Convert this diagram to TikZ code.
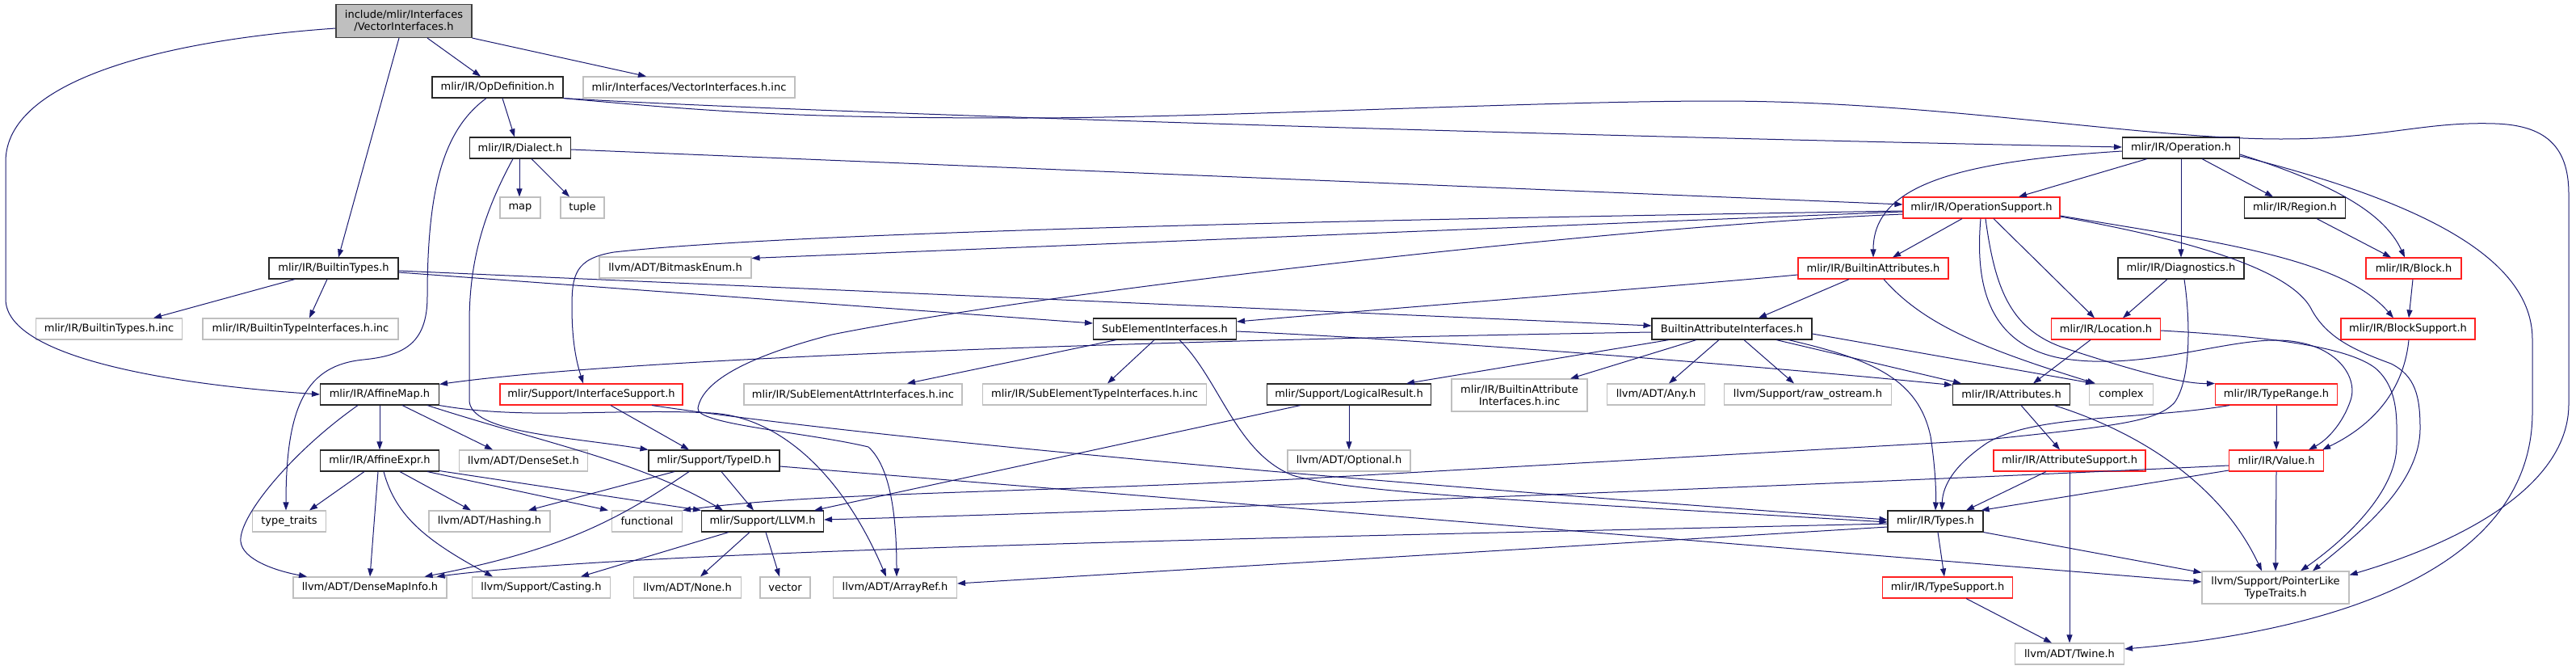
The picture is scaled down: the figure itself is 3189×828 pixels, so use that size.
\documentclass[tikz,border=0pt]{standalone}
\usepackage{fontspec}
\setmainfont{DejaVu Sans}
\usetikzlibrary{arrows.meta}
\definecolor{edgec}{HTML}{191970}
\definecolor{grayb}{HTML}{BFBFBF}
\definecolor{redc}{HTML}{FF2020}
\begin{document}
\begin{tikzpicture}[x=1pt,y=-1pt,
  box/.style={rectangle,draw,inner sep=0pt,minimum height=26pt,line width=1.1pt,
    font=\fontsize{13pt}{15pt}\selectfont,text=black,align=center},
  docbox/.style={box,draw=black!85},
  redbox/.style={box,draw=redc},
  extbox/.style={box,draw=grayb},
  rootbox/.style={box,draw=black!75,fill=grayb,minimum height=41pt},
  dep/.style={draw=edgec,line width=1pt,-{Triangle[length=10pt,width=7pt]},fill=none}]
\fill[white] (0,0) rectangle (3189,828);
\useasboundingbox (0,0) rectangle (3189,828);
% nodes
\node[rootbox,minimum width=168pt] (root) at (500,26) {include/mlir/Interfaces\\/VectorInterfaces.h};
\node[docbox,minimum width=162pt] (opdef) at (616,108) {mlir/IR/OpDefinition.h};
\node[extbox,minimum width=262pt] (viinc) at (853,108) {mlir/Interfaces/VectorInterfaces.h.inc};
\node[docbox,minimum width=125pt] (dialect) at (644,183) {mlir/IR/Dialect.h};
\node[extbox,minimum width=50pt] (map) at (644,257) {map};
\node[extbox,minimum width=54pt] (tuple) at (721,257) {tuple};
\node[extbox,minimum width=188pt] (bitmask) at (836,331) {llvm/ADT/BitmaskEnum.h};
\node[docbox,minimum width=160pt] (btypes) at (413,332) {mlir/IR/BuiltinTypes.h};
\node[extbox,minimum width=181pt] (btinc) at (135,407) {mlir/IR/BuiltinTypes.h.inc};
\node[extbox,minimum width=242pt] (btiinc) at (372,407) {mlir/IR/BuiltinTypeInterfaces.h.inc};
\node[docbox,minimum width=177pt] (sei) at (1442,407) {SubElementInterfaces.h};
\node[docbox,minimum width=198pt] (bai) at (2144,407) {BuiltinAttributeInterfaces.h};
\node[docbox,minimum width=145pt] (operation) at (2700,183) {mlir/IR/Operation.h};
\node[redbox,minimum width=194pt] (opsupport) at (2453,257) {mlir/IR/OperationSupport.h};
\node[docbox,minimum width=125pt] (region) at (2841,257) {mlir/IR/Region.h};
\node[redbox,minimum width=186pt] (battrs) at (2319,332) {mlir/IR/BuiltinAttributes.h};
\node[docbox,minimum width=156pt] (diag) at (2700,332) {mlir/IR/Diagnostics.h};
\node[redbox,minimum width=118pt] (block) at (2988,332) {mlir/IR/Block.h};
\node[redbox,minimum width=135pt] (location) at (2607,407) {mlir/IR/Location.h};
\node[redbox,minimum width=166pt] (blocksupport) at (2981,407) {mlir/IR/BlockSupport.h};
\node[docbox,minimum width=147pt] (affinemap) at (470,488) {mlir/IR/AffineMap.h};
\node[redbox,minimum width=226pt] (ifsupport) at (732,488) {mlir/Support/InterfaceSupport.h};
\node[extbox,minimum width=270pt] (seainc) at (1056,488) {mlir/IR/SubElementAttrInterfaces.h.inc};
\node[docbox,minimum width=147pt] (affineexpr) at (470,570) {mlir/IR/AffineExpr.h};
\node[extbox,minimum width=159pt] (denseset) at (648,570) {llvm/ADT/DenseSet.h};
\node[docbox,minimum width=162pt] (typeid) at (884,570) {mlir/Support/TypeID.h};
\node[extbox,minimum width=91pt] (typetraits) at (358,645) {type\_traits};
\node[extbox,minimum width=150pt] (hashing) at (606,645) {llvm/ADT/Hashing.h};
\node[extbox,minimum width=87pt] (functional) at (801,645) {functional};
\node[docbox,minimum width=151pt] (llvm) at (944,645) {mlir/Support/LLVM.h};
\node[extbox,minimum width=190pt] (densemapinfo) at (458,727) {llvm/ADT/DenseMapInfo.h};
\node[extbox,minimum width=171pt] (casting) at (670,727) {llvm/Support/Casting.h};
\node[extbox,minimum width=133pt] (none) at (851,727) {llvm/ADT/None.h};
\node[extbox,minimum width=62pt] (vector) at (972,727) {vector};
\node[extbox,minimum width=153pt] (arrayref) at (1108,727) {llvm/ADT/ArrayRef.h};
\node[extbox,minimum width=277pt] (setinc) at (1355,488) {mlir/IR/SubElementTypeInterfaces.h.inc};
\node[docbox,minimum width=203pt] (logical) at (1670,488) {mlir/Support/LogicalResult.h};
\node[extbox,minimum width=168pt,minimum height=40pt] (baiinc) at (1881,489) {mlir/IR/BuiltinAttribute\\Interfaces.h.inc};
\node[extbox,minimum width=121pt] (any) at (2050,488) {llvm/ADT/Any.h};
\node[extbox,minimum width=152pt] (optional) at (1670,570) {llvm/ADT/Optional.h};
\node[extbox,minimum width=207pt] (rawostream) at (2238,488) {llvm/Support/raw\_ostream.h};
\node[docbox,minimum width=145pt] (attributes) at (2490,488) {mlir/IR/Attributes.h};
\node[extbox,minimum width=79pt] (complex) at (2626,488) {complex};
\node[redbox,minimum width=151pt] (typerange) at (2818,488) {mlir/IR/TypeRange.h};
\node[redbox,minimum width=188pt] (attrsupport) at (2562,570) {mlir/IR/AttributeSupport.h};
\node[redbox,minimum width=117pt] (value) at (2818,570) {mlir/IR/Value.h};
\node[docbox,minimum width=118pt] (types) at (2396,645) {mlir/IR/Types.h};
\node[redbox,minimum width=161pt] (typesupport) at (2411,727) {mlir/IR/TypeSupport.h};
\node[extbox,minimum width=182pt,minimum height=40pt] (pointerlike) at (2817,727) {llvm/Support/PointerLike\\TypeTraits.h};
\node[extbox,minimum width=135pt] (twine) at (2562,809) {llvm/ADT/Twine.h};
% edges: root
\draw[dep] ([xshift=29pt]root.south) -- ([xshift=-21pt]opdef.north);
\draw[dep] (root.south east) -- ([xshift=-53pt]viinc.north);
\draw[dep] ([xshift=-6pt]root.south) -- ([xshift=6pt]btypes.north);
\draw[dep] ([yshift=-9pt]root.west) .. controls (200,50) and (7,100) .. (7,200) -- (7,370) .. controls (7,440) and (200,475) .. (affinemap.west);
% opdef
\draw[dep] ([xshift=6pt]opdef.south) -- ([xshift=-7pt]dialect.north);
\draw[dep] ([xshift=-14pt]opdef.south) .. controls (550,160) and (529,230) .. (529,367) .. controls (529,425) and (500,440) .. (450,445) .. controls (380,452) and (354,500) .. ([xshift=-4pt]typetraits.north);
\draw[dep] (opdef.south east) .. controls (1000,140) and (2000,170) .. ([yshift=1pt]operation.west);
\draw[dep] (opdef.south east) .. controls (900,140) and (1000,146) .. (1266,146) .. controls (1500,146) and (1900,125) .. (2126,125) .. controls (2400,125) and (2650,172) .. (2824,172) .. controls (2950,172) and (3000,150) .. (3089,153) .. controls (3150,155) and (3180,180) .. (3180,240) -- (3180,500) .. controls (3180,600) and (3050,670) .. ([yshift=-5pt]pointerlike.north east);
% dialect
\draw[dep] ([xshift=-1pt]dialect.south) -- ([xshift=-1pt]map.north);
\draw[dep] ([xshift=14pt]dialect.south) -- ([xshift=-16pt]tuple.north);
\draw[dep] ([yshift=-2pt]dialect.east) -- ([yshift=4pt]opsupport.west);
\draw[dep] ([xshift=-9pt]dialect.south) .. controls (595,270) and (581,330) .. (581,400) -- (581,495) .. controls (581,535) and (700,540) .. (typeid.north west);
% operation
\draw[dep] ([xshift=-42pt]operation.south) -- ([xshift=46pt]opsupport.north);
\draw[dep] ([yshift=-4pt]operation.west) .. controls (2420,200) and (2319,230) .. (battrs.north);
\draw[dep] (operation.south) -- (diag.north);
\draw[dep] ([xshift=26pt]operation.south) -- ([xshift=-27pt]region.north);
\draw[dep] ([yshift=-8pt]operation.east) .. controls (2880,225) and (2950,260) .. ([xshift=-11pt]block.north);
\draw[dep] ([yshift=-10pt]operation.east) .. controls (3000,250) and (3135,320) .. (3135,420) -- (3135,510) .. controls (3135,700) and (2900,780) .. ([yshift=6pt]twine.east);
% opsupport
\draw[dep] ([yshift=-5pt]opsupport.west) -- ([yshift=-2pt]bitmask.north east);
\draw[dep] ([yshift=-4pt]opsupport.west) .. controls (1800,270) and (1000,285) .. (760,312) .. controls (712,320) and (708,340) .. (708,380) .. controls (708,430) and (716,455) .. ([xshift=-10pt]ifsupport.north);
\draw[dep] ([yshift=-8pt]opsupport.west) .. controls (2000,280) and (1300,360) .. (1030,414) .. controls (930,440) and (870,470) .. (864,505) .. controls (860,525) and (1000,535) .. (1075,553) .. controls (1105,580) and (1110,650) .. ([xshift=2pt]arrayref.north);
\draw[dep] ([xshift=-24pt]opsupport.south) -- ([xshift=24pt]battrs.north);
\draw[dep] ([xshift=-1pt]opsupport.south) .. controls (2445,350) and (2460,425) .. (2550,443) .. controls (2650,460) and (2750,420) .. (2820,421) .. controls (2890,422) and (2920,465) .. (2910,495) .. controls (2900,525) and (2880,545) .. ([xshift=40pt]value.north);
\draw[dep] ([xshift=5pt]opsupport.south) .. controls (2470,360) and (2490,410) .. (2560,432) .. controls (2640,458) and (2700,475) .. (typerange.north west);
\draw[dep] ([xshift=15pt]opsupport.south) -- ([xshift=-14pt]location.north);
\draw[dep] ([yshift=-10pt]opsupport.east) .. controls (2750,300) and (2900,320) .. ([xshift=-18pt]blocksupport.north);
\draw[dep] ([yshift=-11pt]opsupport.east) .. controls (2700,295) and (2830,330) .. (2860,380) .. controls (2880,420) and (2920,435) .. (2960,450) .. controls (2990,465) and (2996,490) .. (2996,530) .. controls (2996,600) and (2920,660) .. ([xshift=46pt]pointerlike.north);
% location, region, block
\draw[dep] ([xshift=-19pt]location.south) -- ([xshift=27pt]attributes.north);
\draw[dep] ([yshift=-2pt]location.east) .. controls (2780,415) and (2900,425) .. (2940,455) .. controls (2970,480) and (2967,520) .. (2967,550) .. controls (2967,610) and (2900,670) .. ([xshift=31pt]pointerlike.north);
\draw[dep] ([xshift=27pt]region.south) -- ([xshift=-28pt]block.north);
\draw[dep] ([xshift=-1pt]block.south) -- ([xshift=1pt]blocksupport.north);
\draw[dep] ([xshift=1pt]blocksupport.south) .. controls (2975,490) and (2930,530) .. ([xshift=-2pt]value.north east);
% builtin types
\draw[dep] ([xshift=-48pt]btypes.south) -- ([xshift=55pt]btinc.north);
\draw[dep] ([xshift=-8pt]btypes.south) -- ([xshift=11pt]btiinc.north);
\draw[dep] ([yshift=-3pt]btypes.east) -- ([yshift=4pt]bai.west);
\draw[dep] ([yshift=-5pt]btypes.east) -- ([yshift=7pt]sei.west);
% builtin attributes
\draw[dep] ([xshift=-30pt]battrs.south) -- ([xshift=33pt]bai.north);
\draw[dep] ([yshift=-8pt]battrs.west) .. controls (2100,352) and (1800,375) .. ([yshift=9pt]sei.east);
\draw[dep] ([xshift=13pt]battrs.south) .. controls (2380,400) and (2450,430) .. ([xshift=8pt]complex.north west);
% diagnostics
\draw[dep] ([xshift=-17pt]diag.south) -- ([xshift=21pt]location.north);
\draw[dep] ([xshift=4pt]diag.south) .. controls (2712,400) and (2712,470) .. (2692,498) .. controls (2670,522) and (2620,527) .. (2450,545) -- (1600,593) .. controls (1250,610) and (1000,610) .. (functional.north east);
% sub element interfaces
\draw[dep] ([xshift=-60pt]sei.south) -- ([xshift=67pt]seainc.north);
\draw[dep] ([xshift=-13pt]sei.south) -- ([xshift=16pt]setinc.north);
\draw[dep] ([xshift=18pt]sei.south) .. controls (1510,470) and (1530,560) .. (1600,588) .. controls (1670,610) and (1900,620) .. ([yshift=-1pt]types.west);
\draw[dep] ([yshift=-3pt]sei.east) .. controls (1800,422) and (2200,455) .. ([yshift=-2pt]attributes.north west);
% builtin attribute interfaces
\draw[dep] ([yshift=-4pt]bai.west) .. controls (1500,420) and (800,440) .. ([yshift=-1pt]affinemap.north east);
\draw[dep] ([xshift=-78pt]bai.south) -- ([xshift=71pt]logical.north);
\draw[dep] ([xshift=-44pt]bai.south) -- ([xshift=63pt]baiinc.north);
\draw[dep] ([xshift=-16pt]bai.south) -- ([xshift=16pt]any.north);
\draw[dep] ([xshift=15pt]bai.south) -- ([xshift=-17pt]rawostream.north);
\draw[dep] ([xshift=55pt]bai.south) -- ([xshift=-62pt]attributes.north);
\draw[dep] ([xshift=70pt]bai.south) .. controls (2320,445) and (2375,470) .. (2390,540) .. controls (2396,580) and (2397,610) .. (types.north);
\draw[dep] ([yshift=-6pt]bai.east) -- ([xshift=6pt]complex.north west);
% interface support, logical result
\draw[dep] ([xshift=24pt]ifsupport.south) -- ([xshift=-31pt]typeid.north);
\draw[dep] ([xshift=75pt]ifsupport.south) .. controls (1000,530) and (1400,575) .. ([yshift=2pt]types.west);
\draw[dep] (logical.south) -- (optional.north);
\draw[dep] ([xshift=-60pt]logical.south) -- ([xshift=-12pt]llvm.north east);
% attributes, typerange, value
\draw[dep] ([xshift=12pt]attributes.south) -- ([xshift=-12pt]attrsupport.north);
\draw[dep] ([xshift=53pt]attributes.south) .. controls (2650,535) and (2750,600) .. ([xshift=-17pt]pointerlike.north);
\draw[dep] (typerange.south) -- (value.north);
\draw[dep] ([xshift=-58pt]typerange.south) .. controls (2650,520) and (2520,512) .. (2460,548) .. controls (2420,575) and (2405,600) .. ([xshift=8pt]types.north);
\draw[dep] ([xshift=-29pt]attrsupport.south) -- ([xshift=38pt]types.north);
\draw[dep] (attrsupport.south) -- (twine.north);
\draw[dep] ([yshift=-12pt]value.west) -- ([xshift=-3pt]types.north east);
\draw[dep] ([yshift=-6pt]value.west) .. controls (2300,598) and (1500,630) .. ([yshift=2pt]llvm.east);
\draw[dep] (value.south) -- (pointerlike.north);
% types
\draw[dep] ([xshift=3pt]types.south) -- ([xshift=-4pt]typesupport.north);
\draw[dep] (types.south east) -- ([yshift=-2pt]pointerlike.north west);
\draw[dep] ([yshift=-3pt]types.west) .. controls (1600,665) and (800,680) .. ([xshift=-13pt]densemapinfo.north east);
\draw[dep] ([yshift=-7pt]types.west) -- ([yshift=5pt]arrayref.east);
\draw[dep] ([xshift=23pt]typesupport.south) -- ([xshift=-22pt]twine.north);
% typeid
\draw[dep] ([xshift=9pt]typeid.south) -- ([xshift=-11pt]llvm.north);
\draw[dep] ([xshift=-49pt]typeid.south) -- ([xshift=48pt]hashing.north);
\draw[dep] ([xshift=-31pt]typeid.south) .. controls (770,640) and (700,680) .. ([xshift=-28pt]densemapinfo.north east);
\draw[dep] ([yshift=-7pt]typeid.east) -- ([yshift=7pt]pointerlike.west);
% llvm
\draw[dep] ([xshift=-42pt]llvm.south) -- ([xshift=49pt]casting.north);
\draw[dep] ([xshift=-16pt]llvm.south) -- ([xshift=16pt]none.north);
\draw[dep] ([xshift=4pt]llvm.south) -- ([xshift=-7pt]vector.north);
% affine map
\draw[dep] (affinemap.south) -- (affineexpr.north);
\draw[dep] ([xshift=28pt]affinemap.south) -- ([xshift=-38pt]denseset.north);
\draw[dep] ([xshift=59pt]affinemap.south) .. controls (680,550) and (790,570) .. ([xshift=-49pt]llvm.north);
\draw[dep] (affinemap.south east) .. controls (650,520) and (760,505) .. (880,511) .. controls (960,515) and (1040,580) .. ([xshift=-11pt]arrayref.north);
\draw[dep] ([xshift=-27pt]affinemap.south) .. controls (360,560) and (295,640) .. (298,670) .. controls (300,692) and (340,706) .. ([xshift=-78pt]densemapinfo.north);
% affine expr
\draw[dep] ([xshift=-19pt]affineexpr.south) -- ([xshift=25pt]typetraits.north);
\draw[dep] ([xshift=-2pt]affineexpr.south) -- (densemapinfo.north);
\draw[dep] ([xshift=5pt]affineexpr.south) .. controls (490,640) and (530,670) .. ([xshift=-60pt]casting.north);
\draw[dep] ([xshift=25pt]affineexpr.south) -- ([xshift=-23pt]hashing.north);
\draw[dep] ([xshift=59pt]affineexpr.south) -- ([xshift=-48pt]functional.north);
\draw[dep] ([yshift=1pt]affineexpr.south east) -- (llvm.north west);
\end{tikzpicture}
\end{document}
